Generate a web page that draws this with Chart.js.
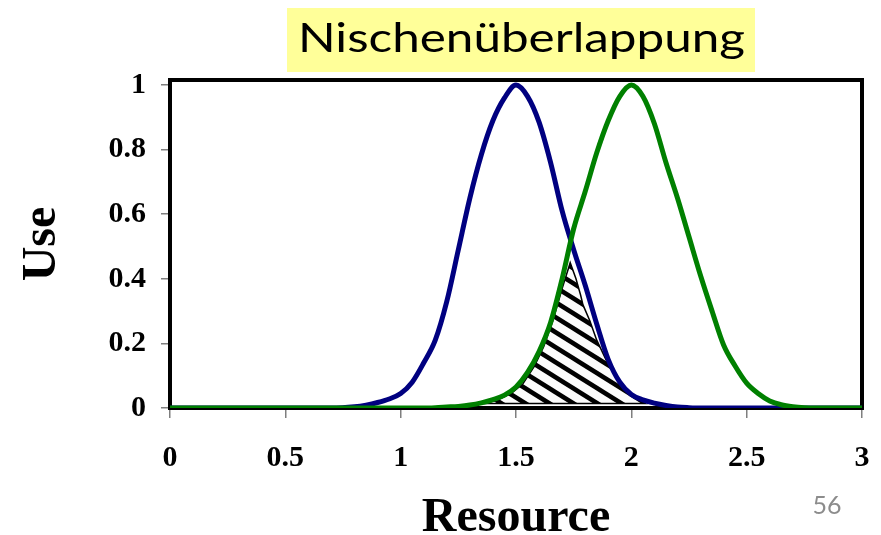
<!DOCTYPE html>
<html>
<head>
<meta charset="utf-8">
<script src="https://cdn.jsdelivr.net/npm/chart.js@4"></script>
<style>
  html, body { margin: 0; padding: 0; background: #ffffff; }
  #wrap { width: 881px; height: 535px; }
</style>
</head>
<body>
<div id="wrap"><canvas id="chart" width="881" height="535"></canvas></div>
<script>
// Resource axis positions of the sampled points
const resource = [0, 0.5, 0.7, 0.8, 0.85, 0.9, 0.95, 1.0, 1.05, 1.1, 1.15, 1.2, 1.25, 1.3, 1.35,
  1.4, 1.45, 1.5, 1.55, 1.6, 1.65, 1.7, 1.75, 1.8, 1.85, 1.9, 1.95, 2.0, 2.05, 2.1, 2.15,
  2.2, 2.25, 2.3, 2.35, 2.4, 2.45, 2.5, 2.55, 2.6, 2.65, 2.7, 2.75, 2.8, 3.0];

// Resource use of species 1 (blue) and species 2 (green)
const useSpecies1 = [0, 0, 0, 0.004, 0.009, 0.017, 0.028, 0.045, 0.08, 0.14, 0.21, 0.33, 0.49, 0.65, 0.785,
  0.89, 0.96, 1.0, 0.965, 0.885, 0.76, 0.61, 0.49, 0.38, 0.26, 0.15, 0.08, 0.042, 0.025, 0.015, 0.008,
  0.003, 0.001, 0, 0, 0, 0, 0, 0, 0, 0, 0, 0, 0, 0];
const useSpecies2 = [0, 0, 0, 0, 0, 0, 0, 0, 0, 0, 0.001, 0.003, 0.005, 0.009, 0.016,
  0.026, 0.04, 0.065, 0.11, 0.175, 0.265, 0.40, 0.555, 0.67, 0.79, 0.89, 0.965, 1.0, 0.965, 0.88, 0.76,
  0.65, 0.53, 0.41, 0.30, 0.195, 0.13, 0.077, 0.045, 0.022, 0.01, 0.004, 0.001, 0, 0];

// Outline of the shared (overlapping) region, closed along its base
const overlapX = [1.36, 1.42, 1.48, 1.53, 1.58, 1.62, 1.66, 1.70, 1.735, 1.76, 1.78, 1.79, 1.82, 1.85,
  1.89, 1.93, 1.98, 2.02, 2.06, 1.36];
const overlapY = [0.014, 0.025, 0.045, 0.075, 0.13, 0.19, 0.27, 0.37, 0.45, 0.40, 0.35, 0.32, 0.27, 0.21,
  0.15, 0.10, 0.055, 0.03, 0.014, 0.014];

const xTickValues = [0, 0.5, 1, 1.5, 2, 2.5, 3];
const yTickValues = [0, 0.2, 0.4, 0.6, 0.8, 1];

const chartTitle = 'Nischenüberlappung';
const xAxisTitle = 'Resource';
const yAxisTitle = 'Use';
const slideNumber = '56';

const toPoints = (xs, ys) => xs.map((x, i) => ({ x: x, y: ys[i] }));

// Diagonal black/white stripes for the overlap area
function makeHatch() {
  const tile = document.createElement('canvas');
  tile.width = 24; tile.height = 15;
  const t = tile.getContext('2d');
  t.fillStyle = '#fbfbfb';
  t.fillRect(0, 0, 24, 15);
  t.strokeStyle = '#000000';
  t.lineWidth = 4.6;
  for (let k = -1; k <= 1; k++) {
    t.beginPath();
    t.moveTo(-2, k * 15 - 1.25);
    t.lineTo(26, 15 + k * 15 + 1.25);
    t.stroke();
  }
  return t.createPattern(tile, 'repeat');
}

const serifBold = (size, lh) => ({ family: '"Liberation Serif", "Times New Roman", serif', weight: 'bold', size: size, lineHeight: lh });

// Black frame around the plot area, under the curves
const plotFrame = {
  id: 'plotFrame',
  beforeDatasetsDraw(chart) {
    const { ctx, chartArea: a } = chart;
    ctx.save();
    ctx.strokeStyle = '#000000';
    ctx.lineWidth = 4;
    ctx.strokeRect(a.left, a.top, a.right - a.left, a.bottom - a.top);
    ctx.restore();
  }
};

// Highlighted heading and page number
const slideDecor = {
  id: 'slideDecor',
  afterDraw(chart) {
    const ctx = chart.ctx;
    ctx.save();
    ctx.fillStyle = '#ffff99';
    ctx.fillRect(287, 8, 468, 64);
    ctx.font = '40px Lato, "Open Sans", sans-serif';
    const w = ctx.measureText(chartTitle).width;
    ctx.translate(521.5, 52);
    ctx.scale(447 / w, 1);
    ctx.fillStyle = '#000000';
    ctx.textAlign = 'center';
    ctx.textBaseline = 'alphabetic';
    ctx.fillText(chartTitle, 0, 0);
    ctx.restore();

    ctx.save();
    ctx.font = '25px Lato, "Open Sans", sans-serif';
    ctx.fillStyle = '#8c8c8c';
    ctx.textAlign = 'center';
    ctx.textBaseline = 'alphabetic';
    ctx.fillText(slideNumber, 827, 514);
    ctx.restore();
  }
};

const plainNumber = (v) => String(v);

const ctx = document.getElementById('chart').getContext('2d');

new Chart(ctx, {
  type: 'line',
  data: {
    datasets: [
      {
        label: 'Species 2',
        data: toPoints(resource, useSpecies2),
        borderColor: '#008000',
        borderWidth: 5,
        pointRadius: 0,
        cubicInterpolationMode: 'monotone',
        fill: false,
        order: 0
      },
      {
        label: 'Species 1',
        data: toPoints(resource, useSpecies1),
        borderColor: '#000080',
        borderWidth: 5,
        pointRadius: 0,
        cubicInterpolationMode: 'monotone',
        fill: false,
        order: 1
      },
      {
        label: 'Overlap',
        data: toPoints(overlapX, overlapY),
        borderColor: '#000000',
        borderWidth: 1.5,
        backgroundColor: makeHatch(),
        pointRadius: 0,
        tension: 0,
        fill: 'shape',
        order: 2
      }
    ]
  },
  options: {
    responsive: false,
    animation: false,
    layout: { padding: { top: 80, right: 19, left: 0, bottom: 0 } },
    plugins: {
      legend: { display: false },
      tooltip: { enabled: false },
      title: { display: false }
    },
    scales: {
      x: {
        type: 'linear',
        min: 0,
        max: 3,
        afterBuildTicks: (scale) => { scale.ticks = xTickValues.map(v => ({ value: v })); },
        afterFit: (scale) => { scale.height = 127; scale.paddingLeft = 0; scale.paddingRight = 0; },
        grid: { display: true, drawOnChartArea: false, drawTicks: true, tickLength: 10, color: '#7f7f7f', lineWidth: 1.5 },
        border: { display: false },
        ticks: { color: '#000000', font: serifBold(30, 1.2), padding: 22, maxRotation: 0, callback: plainNumber },
        title: { display: true, text: xAxisTitle, color: '#000000', font: serifBold(48, 0.7), padding: { top: 0, bottom: 0 } }
      },
      y: {
        type: 'linear',
        min: 0,
        max: 1.0155,
        afterBuildTicks: (scale) => { scale.ticks = yTickValues.map(v => ({ value: v })); },
        afterFit: (scale) => { scale.width = 170; scale.paddingTop = 0; scale.paddingBottom = 0; },
        grid: { display: true, drawOnChartArea: false, drawTicks: true, tickLength: 9, color: '#7f7f7f', lineWidth: 1.5 },
        border: { display: false },
        ticks: { color: '#000000', font: serifBold(30, 1.2), padding: 15, callback: plainNumber },
        title: { display: true, text: yAxisTitle, color: '#000000', font: serifBold(48, 0.7), padding: { top: 26, bottom: 0 } }
      }
    }
  },
  plugins: [plotFrame, slideDecor]
});
</script>
</body>
</html>
